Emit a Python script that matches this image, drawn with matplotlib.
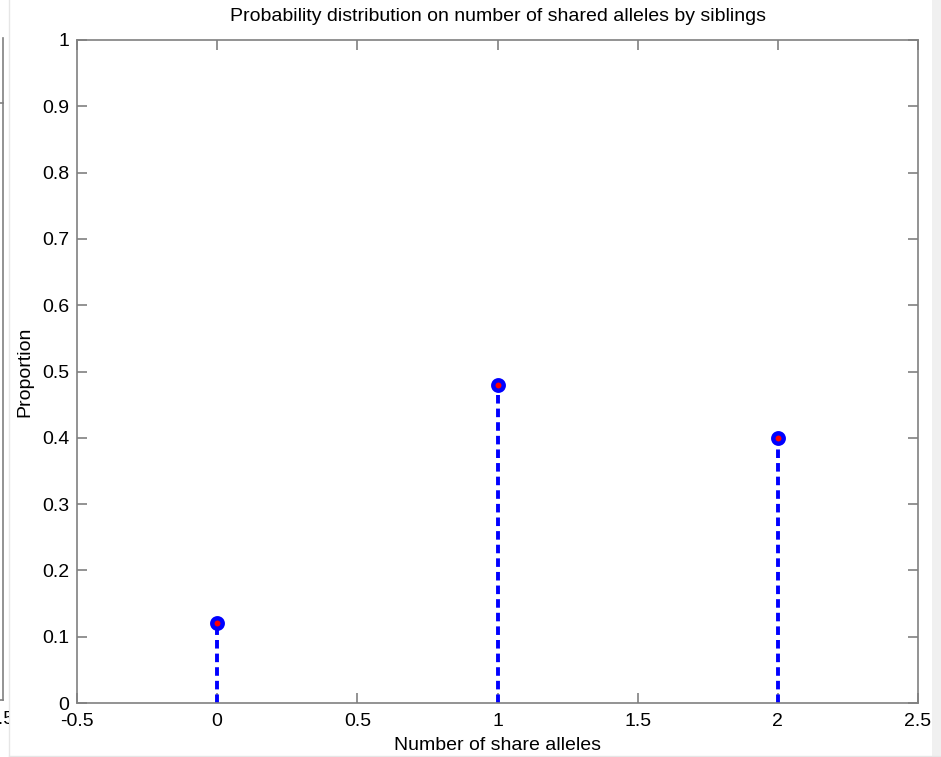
import matplotlib
matplotlib.use("Agg")
import matplotlib.pyplot as plt
from matplotlib.lines import Line2D
from matplotlib.patches import Rectangle
from matplotlib.transforms import Bbox, TransformedBbox

# data
shared = [0, 1, 2]
proportion = [0.12, 0.48, 0.40]
xticks = [-0.5, 0, 0.5, 1, 1.5, 2, 2.5]
yticks = [0, 0.1, 0.2, 0.3, 0.4, 0.5, 0.6, 0.7, 0.8, 0.9, 1]

W, H = 941, 757
plt.rcParams["font.family"] = ["Liberation Sans", "DejaVu Sans"]

fig = plt.figure(figsize=(W / 100, H / 100), dpi=100)
fig.patch.set_facecolor("white")
ax = fig.add_axes([77 / W, 1 - 703 / H, 841 / W, 663 / H])

frame = "#808080"
markerline, stemlines, baseline = ax.stem(shared, proportion, linefmt="b--",
                                          markerfmt="o", basefmt=" ")
plt.setp(stemlines, linewidth=2.8, linestyle=(0, (2.2, 1.3)))
plt.setp(markerline, markersize=7.5, markerfacecolor="red",
         markeredgecolor="blue", markeredgewidth=3.2, zorder=3)

ax.set_xlim(-0.5, 2.5)
ax.set_ylim(0, 1)
ax.set_xticks(xticks)
ax.set_xticklabels([f"{t:g}" for t in xticks])
ax.set_yticks(yticks)
ax.set_yticklabels([f"{t:g}" for t in yticks])
ax.tick_params(direction="in", length=7, width=1.2, color=frame,
               top=True, right=True, labelsize=14, pad=5.5)
ax.tick_params(axis="x", pad=7.5)
for s in ax.spines.values():
    s.set_color(frame)
    s.set_linewidth(1.2)

ax.set_title("Probability distribution on number of shared alleles by siblings",
             fontsize=14, pad=14)
ax.set_xlabel("Number of share alleles", fontsize=14, labelpad=5)
ax.set_ylabel("Proportion", fontsize=14, labelpad=6)

# remnants of the neighbouring panel at the left edge and the window strip
fig.add_artist(Line2D([3 / W, 3 / W], [1 - 38 / H, 1 - 700 / H],
                      color=frame, lw=1.2))
fig.add_artist(Line2D([0, 3 / W], [1 - 103 / H, 1 - 103 / H], color=frame, lw=1.2))
fig.add_artist(Line2D([0, 3 / W], [1 - 700 / H, 1 - 700 / H], color=frame, lw=1.2))
left_txt = fig.text(14 / W, 1 - 719 / H, "2.5", ha="right", va="center", fontsize=14)
left_txt.set_clip_box(TransformedBbox(Bbox([[0, 0], [8.5 / W, 1]]), fig.transFigure))
left_txt.set_clip_on(True)
fig.add_artist(Line2D([8.5 / W, 8.5 / W], [0, 1], color="#e6e6e6", lw=1))
fig.add_artist(Line2D([8.5 / W, 1], [1 - 755.5 / H, 1 - 755.5 / H], color="#e6e6e6", lw=1))
fig.add_artist(Rectangle((932 / W, 0), 9 / W, 1, transform=fig.transFigure,
                         facecolor="#f0f0f0", edgecolor="none"))

fig.savefig("out.png", dpi=100)
